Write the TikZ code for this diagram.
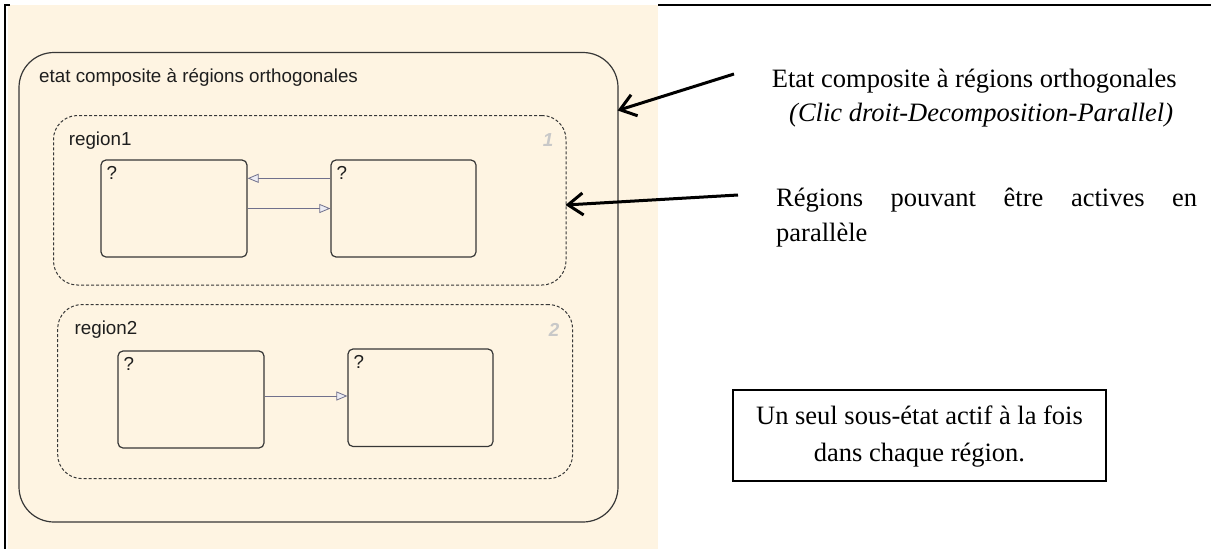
\documentclass[tikz,border=0pt]{standalone}
\usepackage{fontspec}
\setmainfont{Liberation Serif}
\newfontfamily\diagfont{Liberation Sans}
\usetikzlibrary{arrows.meta}
\definecolor{beige}{RGB}{254,244,226}
\definecolor{edge}{RGB}{55,55,55}
\definecolor{dashc}{RGB}{55,55,55}
\definecolor{transc}{RGB}{112,112,140}
\definecolor{headfill}{RGB}{236,236,244}
\definecolor{numc}{RGB}{200,200,200}
\definecolor{txtc}{RGB}{30,30,30}
\tikzset{
  composite/.style={draw=edge, line width=1.2pt, rounded corners=35pt, inner sep=0pt},
  regionbox/.style={draw=dashc, line width=1pt, dash pattern=on 3pt off 2pt, rounded corners=24pt, inner sep=0pt},
  statebox/.style={draw=edge, line width=1.2pt, rounded corners=5pt, inner sep=0pt},
  qmark/.style={anchor=north west, inner sep=0pt, font=\diagfont\fontsize{18.8}{22}\selectfont, text=txtc},
  dlabel/.style={anchor=base west, inner sep=0pt, font=\diagfont\fontsize{18.8}{22}\selectfont, text=txtc},
  rnum/.style={anchor=base, inner sep=0pt, font=\diagfont\bfseries\itshape\fontsize{18.8}{22}\selectfont, text=numc},
  trans/.style={draw=transc, line width=0.9pt, -{Triangle[length=11pt,width=9pt,fill=headfill,line width=0.8pt]}},
  callout/.style={draw=black, line width=3pt, -{Straight Barb[length=15pt,width=22pt]}},
  rtext/.style={anchor=base west, inner sep=0pt, font=\fontsize{26.5}{34}\selectfont},
}
\begin{document}
\begin{tikzpicture}[x=1pt,y=-1pt]
\useasboundingbox (0,0) rectangle (1211,549);
% background panel and page lines
\fill[beige] (8,5) rectangle (658,549);
\draw[line width=2.5pt] (10,5) -- (5,5) -- (5,549);
\draw[line width=2.5pt] (658,5) -- (1211,5);

% composite state
\node[composite, minimum width=599pt, minimum height=469.5pt] (comp) at (318.5,287.25) {};
\node[dlabel] (title) at (39,82) {etat composite à régions orthogonales};

% region 1
\node[regionbox, minimum width=512.5pt, minimum height=169.5pt] (reg1) at (309.75,200.25) {};
\node[dlabel] (r1name) at (68.6,145.3) {region1};
\node[rnum] (r1num) at (548,146.5) {1};
\node[statebox, minimum width=146pt, minimum height=97pt] (a1) at (174,208.5) {};
\node[statebox, minimum width=145pt, minimum height=97pt] (b1) at (403.5,208.5) {};
\node[qmark] (qa1) at ([xshift=6pt,yshift=-6.5pt]a1.north west) {?};
\node[qmark] (qb1) at ([xshift=6pt,yshift=-6.5pt]b1.north west) {?};
\draw[trans] ([yshift=30.2pt]b1.west) -- ([yshift=30.2pt]a1.east);
\draw[trans] (a1.east) -- (b1.west);

% region 2
\node[regionbox, minimum width=514.9pt, minimum height=174pt] (reg2) at (315.15,391.6) {};
\node[dlabel] (r2name) at (74.4,334.3) {region2};
\node[rnum] (r2num) at (554,336) {2};
\node[statebox, minimum width=146pt, minimum height=97pt] (c2) at (191,399.5) {};
\node[statebox, minimum width=145pt, minimum height=97.5pt] (d2) at (420.5,397.75) {};
\node[qmark] (qc2) at ([xshift=6pt,yshift=-6.5pt]c2.north west) {?};
\node[qmark] (qd2) at ([xshift=6pt,yshift=-6.5pt]d2.north west) {?};
\coordinate (c2a) at ([yshift=3.5pt]c2.east);
\draw[trans] (c2a) -- (c2a -| d2.west);

% right-hand annotations
\node[rtext] (ann1) at (771.7,87.7) {Etat composite à régions orthogonales};
\node[rtext] (ann1b) at (789,121.7) {\itshape (Clic droit-Decomposition-Parallel)};
\node[rtext] (ann2) at (776,206.7) {\makebox[421pt][l]{Régions\hfill pouvant\hfill être\hfill actives\hfill en}};
\node[rtext] (ann2b) at (776,241.5) {parallèle};

\coordinate (tail1) at (734,74);
\coordinate (tail2) at (738,195);
\draw[callout] (tail1) -- ([yshift=176.75pt,xshift=-1pt]comp.east);
\draw[callout] (tail2) -- ([yshift=-4.75pt,xshift=-1pt]reg1.east);

% note box
\node[draw=black, line width=1.8pt, minimum width=373pt, minimum height=91pt, inner sep=0pt] (note) at (919.5,435.5) {};
\node[anchor=base, inner sep=0pt, font=\fontsize{26.5}{34}\selectfont] (note1) at (919.5,424) {Un seul sous-état actif à la fois};
\node[anchor=base, inner sep=0pt, font=\fontsize{26.5}{34}\selectfont] (note2) at (919.5,461.7) {dans chaque région.};
\end{tikzpicture}
\end{document}
